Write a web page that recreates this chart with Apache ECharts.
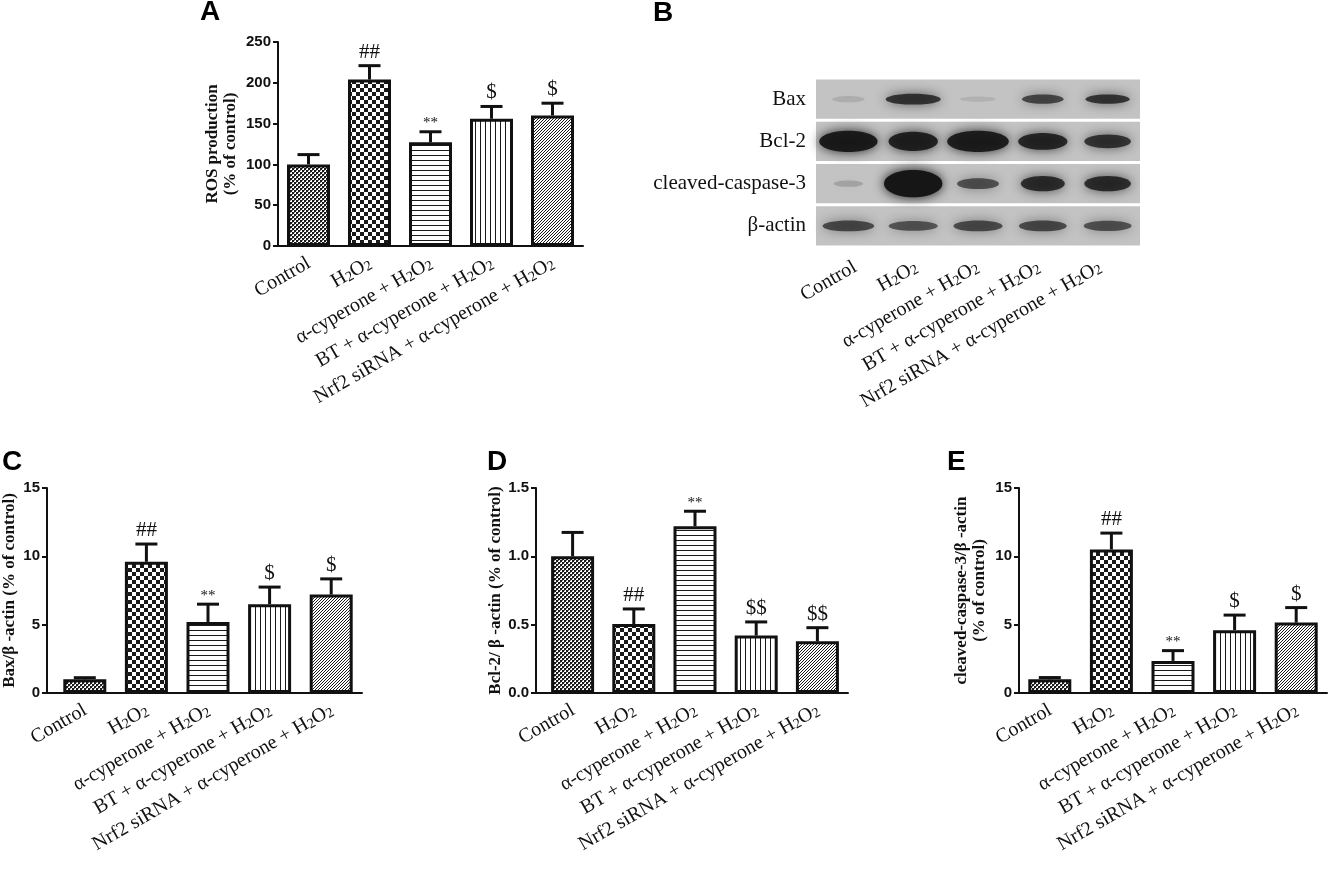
<!DOCTYPE html>
<html><head><meta charset="utf-8">
<script src="https://cdn.jsdelivr.net/npm/echarts@6/dist/echarts.min.js"></script>
<style>html,body{margin:0;padding:0;background:#fff}#c{width:1328px;height:872px}</style>
</head><body><div id="c"></div>
<script>
// ---------- data ----------
const groups = ['Control', 'H2O2', 'α-cyperone + H2O2', 'BT + α-cyperone + H2O2', 'Nrf2 siRNA + α-cyperone + H2O2'];
const rosMean = [100, 204, 127, 156, 160];
const rosErr = [12, 17, 13, 15, 15];
const rosMarks = ['', '##', '**', '$', '$'];
const baxMean = [1.0, 9.6, 5.2, 6.5, 7.2];
const baxErr = [0.12, 1.3, 1.3, 1.25, 1.15];
const baxMarks = ['', '##', '**', '$', '$'];
const bclMean = [1.0, 0.505, 1.22, 0.42, 0.378];
const bclErr = [0.175, 0.11, 0.11, 0.1, 0.1];
const bclMarks = ['', '##', '**', '$$', '$$'];
const casMean = [1.0, 10.5, 2.35, 4.6, 5.15];
const casErr = [0.13, 1.2, 0.75, 1.1, 1.1];
const casMarks = ['', '##', '**', '$', '$'];
const rosTicks = [0, 250, 50];
const baxTicks = [0, 15, 5];
const bclTicks = [0, 1.5, 0.5];
const casTicks = [0, 15, 5];
const proteins = ['Bax', 'Bcl-2', 'cleaved-caspase-3', 'β-actin'];
const bandIntensity = [
  [0.12, 0.78, 0.10, 0.68, 0.78],
  [0.95, 0.90, 0.92, 0.86, 0.78],
  [0.18, 1.00, 0.62, 0.82, 0.82],
  [0.66, 0.60, 0.65, 0.66, 0.62]
];
const bandWidth = [
  [0.50, 0.85, 0.55, 0.64, 0.68],
  [0.90, 0.76, 0.95, 0.76, 0.72],
  [0.45, 0.90, 0.65, 0.68, 0.72],
  [0.80, 0.76, 0.76, 0.74, 0.74]
];
const bandHeight = [
  [0.15, 0.26, 0.12, 0.22, 0.22],
  [0.50, 0.45, 0.50, 0.40, 0.32],
  [0.15, 0.64, 0.26, 0.36, 0.36],
  [0.26, 0.23, 0.26, 0.26, 0.24]
];

// ---------- styling ----------
const SERIF = "'Liberation Serif', 'Times New Roman', serif";
const SANS = "'Liberation Sans', Arial, sans-serif";
const INK = '#111';

function tile(w, h, draw) {
  const c = document.createElement('canvas');
  c.width = w; c.height = h;
  const g = c.getContext('2d');
  g.fillStyle = '#fff'; g.fillRect(0, 0, w, h);
  g.fillStyle = '#1a1a1a';
  draw(g);
  return { image: c, repeat: 'repeat' };
}
const patterns = [
  tile(4, 4, g => { g.fillRect(0, 0, 2, 2); g.fillRect(2, 2, 2, 2); g.fillStyle = '#777'; g.fillRect(2, 0, 1, 1); g.fillRect(0, 2, 1, 1); }),
  tile(8, 8, g => { g.fillRect(0, 0, 4, 4); g.fillRect(4, 4, 4, 4); }),
  tile(5, 5, g => { g.fillRect(0, 0, 5, 1); }),
  tile(5, 5, g => { g.fillRect(0, 0, 1, 5); }),
  tile(3, 3, g => { g.fillRect(2, 0, 1, 1); g.fillRect(1, 1, 1, 1); g.fillRect(0, 2, 1, 1); })
];

function fmtGroup(s) {
  const parts = s.split('H2O2');
  if (parts.length === 1) return '{n|' + s + '}';
  return (parts[0] ? '{n|' + parts[0] + '}' : '') + '{n|H}{s|2}{n|O}{s|2}';
}
const labelRich = {
  n: { fontFamily: SERIF, fontSize: 20, color: INK, verticalAlign: 'bottom', lineHeight: 22 },
  s: { fontFamily: SERIF, fontSize: 14, color: INK, verticalAlign: 'bottom', lineHeight: 22 }
};

function xAx(gi) {
  return {
    type: 'category', gridIndex: gi, data: groups,
    axisLine: { lineStyle: { color: INK, width: 2 } },
    axisTick: { alignWithLabel: true, length: 5, lineStyle: { color: INK, width: 2 } },
    axisLabel: { interval: 0, rotate: 30, margin: 15, formatter: fmtGroup, rich: labelRich }
  };
}
function yAx(gi, ticks, name, gap, dec, offset) {
  return {
    type: 'value', gridIndex: gi, min: ticks[0], max: ticks[1], interval: ticks[2], offset: offset || 0,
    name: name, nameLocation: 'middle', nameGap: gap, nameRotate: 90,
    nameTextStyle: { fontFamily: SERIF, fontWeight: 'bold', fontSize: 17, color: INK, lineHeight: 18 },
    splitLine: { show: false },
    axisLine: { show: true, lineStyle: { color: INK, width: 2 } },
    axisTick: { show: true, length: 5, lineStyle: { color: INK, width: 2 } },
    axisLabel: { margin: 7, fontFamily: SANS, fontWeight: 'bold', fontSize: 15, color: INK,
      formatter: v => v.toFixed(dec) }
  };
}
function barSeries(gi, means) {
  return {
    type: 'bar', xAxisIndex: gi, yAxisIndex: gi, barWidth: 43, z: 2,
    itemStyle: { borderColor: INK, borderWidth: 3 },
    data: means.map((v, i) => ({ value: v, itemStyle: { color: patterns[i] } }))
  };
}
function errSeries(gi, means, errs, marks) {
  return {
    type: 'custom', xAxisIndex: gi, yAxisIndex: gi, z: 5,
    data: means.map((m, i) => [i, m, m + errs[i]]),
    renderItem: (params, api) => {
      const i = params.dataIndex;
      const p0 = api.coord([api.value(0), api.value(1)]);
      const p1 = api.coord([api.value(0), api.value(2)]);
      const cap = 11;
      const st = { stroke: INK, lineWidth: 3 };
      const ch = [
        { type: 'line', shape: { x1: p0[0], y1: p0[1], x2: p0[0], y2: p1[1] }, style: st },
        { type: 'line', shape: { x1: p0[0] - cap, y1: p1[1], x2: p0[0] + cap, y2: p1[1] }, style: st }
      ];
      const mk = marks[i];
      if (mk) {
        const small = mk === '**';
        ch.push({ type: 'text', style: { text: mk, x: p0[0], y: p1[1] - (small ? 1 : 3), textAlign: 'center', textVerticalAlign: 'bottom',
          font: (small ? '15px ' : '21px ') + SERIF, fill: INK } });
      }
      return { type: 'group', children: ch };
    }
  };
}

const bandData = [];
proteins.forEach((p, pi) => groups.forEach((g, li) => {
  bandData.push([li, pi, bandIntensity[pi][li], bandWidth[pi][li], bandHeight[pi][li]]);
}));

const chart = echarts.init(document.getElementById('c'), null, { renderer: 'canvas' });
const letter = (t, x, y) => ({ type: 'text', left: x, top: y, style: { text: t, font: 'bold 28px ' + SANS, fill: '#000' } });

chart.setOption({
  animation: false,
  backgroundColor: '#fff',
  graphic: [
    letter('A', 200, -2), letter('B', 653, -1), letter('C', 2, 448), letter('D', 487, 448), letter('E', 947, 448),
    { type: 'line', shape: { x1: 47, y1: 693, x2: 55, y2: 693 }, style: { stroke: INK, lineWidth: 2 } },
    { type: 'line', shape: { x1: 536, y1: 693, x2: 543, y2: 693 }, style: { stroke: INK, lineWidth: 2 } }
  ],
  grid: [
    { left: 278, top: 42, width: 305, height: 204 },
    { left: 816, top: 78, width: 324, height: 169 },
    { left: 54, top: 488, width: 308, height: 205 },
    { left: 542, top: 488, width: 306, height: 205 },
    { left: 1019, top: 488, width: 308, height: 205 },
    { left: 824, top: 78, width: 306, height: 169 }
  ],
  xAxis: [
    xAx(0),
    { type: 'category', gridIndex: 1, data: groups, show: false },
    xAx(2), xAx(3), xAx(4),
    { type: 'category', gridIndex: 5, data: groups, axisLine: { show: false }, axisTick: { show: false },
      axisLabel: { interval: 0, rotate: 30, margin: 18, formatter: fmtGroup, rich: labelRich } }
  ],
  yAxis: [
    yAx(0, rosTicks, 'ROS production\n(% of control)', 38, 0),
    { type: 'category', gridIndex: 1, data: proteins, inverse: true, axisLine: { show: false }, axisTick: { show: false },
      axisLabel: { margin: 10, fontFamily: SERIF, fontSize: 21, color: INK } },
    yAx(2, baxTicks, 'Bax/β -actin (% of control)', 28, 0, 7),
    yAx(3, bclTicks, 'Bcl-2/ β -actin (% of control)', 30, 1, 6),
    yAx(4, casTicks, 'cleaved-caspase-3/β -actin\n(% of control)', 30, 0),
    { type: 'value', gridIndex: 5, show: false }
  ],
  series: [
    barSeries(0, rosMean), errSeries(0, rosMean, rosErr, rosMarks),
    {
      type: 'custom', xAxisIndex: 1, yAxisIndex: 1, z: 1,
      data: proteins.map((p, i) => [0, i]),
      renderItem: (params, api) => {
        const cs = params.coordSys;
        const cy = api.coord([0, api.value(1)])[1];
        const h = api.size([1, 1])[1];
        return { type: 'rect', shape: { x: cs.x, y: cy - h / 2 + 1.5, width: cs.width, height: h - 3 }, style: { fill: '#c3c3c3' } };
      }
    },
    {
      type: 'custom', xAxisIndex: 1, yAxisIndex: 1, z: 2,
      data: bandData,
      renderItem: (params, api) => {
        const c = api.coord([api.value(0), api.value(1)]);
        const sz = api.size([1, 1]);
        const a = api.value(2);
        const col = 'rgba(22,22,22,' + a + ')';
        return { type: 'ellipse', shape: { cx: c[0], cy: c[1], rx: api.value(3) * sz[0] / 2, ry: api.value(4) * sz[1] / 2 },
          style: { fill: col, shadowBlur: 12, shadowColor: col } };
      }
    },
    barSeries(2, baxMean), errSeries(2, baxMean, baxErr, baxMarks),
    barSeries(3, bclMean), errSeries(3, bclMean, bclErr, bclMarks),
    barSeries(4, casMean), errSeries(4, casMean, casErr, casMarks)
  ]
});
</script></body></html>
